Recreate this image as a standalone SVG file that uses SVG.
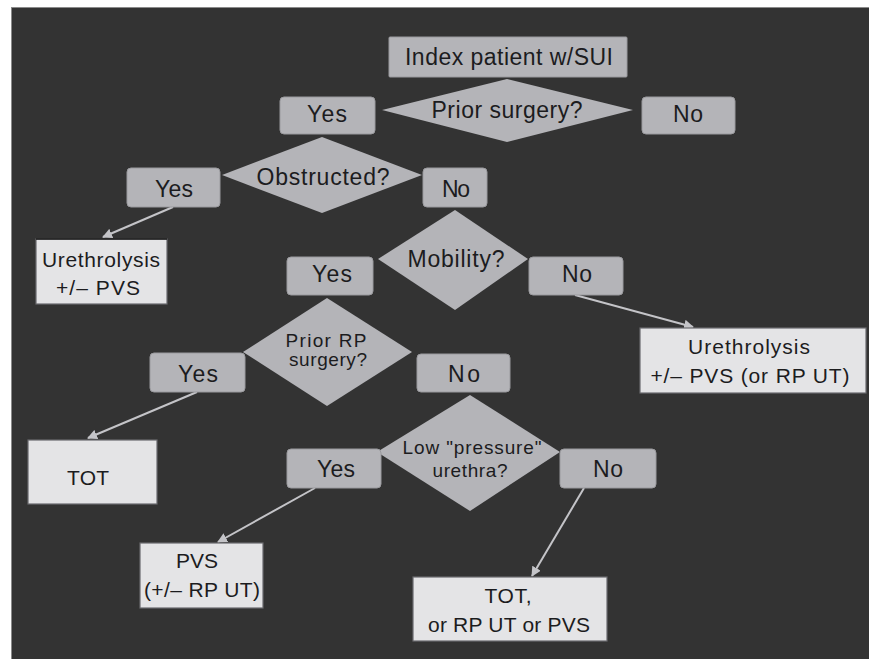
<svg xmlns="http://www.w3.org/2000/svg" width="869" height="659" viewBox="0 0 869 659">
  <style>
    .dec { fill: #b4b4b8; }
    .btn { fill: #b4b4b8; stroke: #9a9a9e; stroke-width: 1; }
    .out { fill: #e4e4e6; stroke: #6a6a6e; stroke-width: 1.2; }
    text { font-family: "Liberation Sans", Arial, sans-serif; fill: #1c1c1e; text-anchor: middle; }
    .lg { font-size: 23px; }
    .md { font-size: 21px; }
    .sm { font-size: 19px; }
    .link { stroke: #c4c4c8; stroke-width: 2; fill: none; marker-end: url(#arrow); }
  </style>
  <defs>
    <marker id="arrow" viewBox="0 0 10 10" refX="9" refY="5" markerWidth="5" markerHeight="5" orient="auto" markerUnits="strokeWidth">
      <path d="M0,0 L10,5 L0,10 Z" fill="#c4c4c8"/>
    </marker>
  </defs>

  <!-- page and panel -->
  <rect x="0" y="0" width="869" height="659" fill="#ffffff"/>
  <rect x="11" y="7" width="858" height="652" fill="#8a8a8a"/>
  <rect x="12" y="8" width="857" height="651" fill="#333333"/>

  <!-- connectors -->
  <g id="connectors">
    <line class="link" x1="173" y1="207" x2="103" y2="237"/>
    <line class="link" x1="575" y1="295" x2="693" y2="327"/>
    <line class="link" x1="197" y1="392" x2="88" y2="438"/>
    <line class="link" x1="315" y1="488" x2="218" y2="542"/>
    <line class="link" x1="584" y1="488" x2="532" y2="576"/>
  </g>

  <!-- start -->
  <g id="start">
    <rect class="btn" x="389" y="37" width="238" height="40" rx="1"/>
    <text class="lg" x="509" y="65" textLength="208" lengthAdjust="spacing">Index patient w/SUI</text>
  </g>

  <!-- Prior surgery? -->
  <g id="q-prior-surgery">
    <polygon class="dec" points="507,79 633,110 507,142 382,110"/>
    <text class="lg" x="507" y="118" textLength="151" lengthAdjust="spacing">Prior surgery?</text>
  </g>
  <g id="prior-surgery-yes">
    <rect class="btn" x="280" y="97" width="95" height="37" rx="4"/>
    <text class="lg" x="327" y="122" textLength="40" lengthAdjust="spacing">Yes</text>
  </g>
  <g id="prior-surgery-no">
    <rect class="btn" x="642" y="97" width="93" height="37" rx="4"/>
    <text class="lg" x="688" y="122" textLength="30" lengthAdjust="spacing">No</text>
  </g>

  <!-- Obstructed? -->
  <g id="q-obstructed">
    <polygon class="dec" points="322,137 422,175 322,213 222,175"/>
    <text class="lg" x="323" y="185" textLength="133" lengthAdjust="spacing">Obstructed?</text>
  </g>
  <g id="obstructed-yes">
    <rect class="btn" x="127" y="168" width="93" height="39" rx="4"/>
    <text class="lg" x="174" y="197" textLength="38" lengthAdjust="spacing">Yes</text>
  </g>
  <g id="obstructed-no">
    <rect class="btn" x="423" y="168" width="64" height="39" rx="4"/>
    <text class="lg" x="456" y="197" textLength="28" lengthAdjust="spacing">No</text>
  </g>
  <g id="urethrolysis-pvs">
    <rect class="out" x="36" y="239" width="131" height="65"/>
    <line x1="36" y1="239" x2="167" y2="239" stroke="#1a1a1a" stroke-width="1.5"/>
    <text class="md" x="101" y="267" textLength="118" lengthAdjust="spacing">Urethrolysis</text>
    <text class="md" x="98" y="295" textLength="84" lengthAdjust="spacing">+/– PVS</text>
  </g>

  <!-- Mobility? -->
  <g id="q-mobility">
    <polygon class="dec" points="455,210 528,259 455,310 378,259"/>
    <text class="lg" x="456" y="267" textLength="97" lengthAdjust="spacing">Mobility?</text>
  </g>
  <g id="mobility-yes">
    <rect class="btn" x="287" y="257" width="86" height="38" rx="4"/>
    <text class="lg" x="332" y="282" textLength="40" lengthAdjust="spacing">Yes</text>
  </g>
  <g id="mobility-no">
    <rect class="btn" x="529" y="257" width="94" height="38" rx="4"/>
    <text class="lg" x="577" y="282" textLength="30" lengthAdjust="spacing">No</text>
  </g>
  <g id="urethrolysis-pvs-rput">
    <rect class="out" x="640" y="328" width="226" height="65"/>
    <text class="md" x="749" y="354" textLength="122" lengthAdjust="spacing">Urethrolysis</text>
    <text class="md" x="750" y="383" textLength="199" lengthAdjust="spacing">+/– PVS (or RP UT)</text>
  </g>

  <!-- Prior RP surgery? -->
  <g id="q-prior-rp">
    <polygon class="dec" points="327,298 412,352 327,406 243,352"/>
    <text class="sm" x="326" y="347" textLength="81" lengthAdjust="spacing">Prior RP</text>
    <text class="sm" x="328" y="366" textLength="78" lengthAdjust="spacing">surgery?</text>
  </g>
  <g id="prior-rp-yes">
    <rect class="btn" x="150" y="353" width="95" height="39" rx="4"/>
    <text class="lg" x="198" y="382" textLength="40" lengthAdjust="spacing">Yes</text>
  </g>
  <g id="prior-rp-no">
    <rect class="btn" x="417" y="354" width="93" height="38" rx="4"/>
    <text class="lg" x="464" y="382" textLength="32" lengthAdjust="spacing">No</text>
  </g>
  <g id="tot">
    <rect class="out" x="28" y="440" width="129" height="64"/>
    <text class="md" x="88" y="485" textLength="42" lengthAdjust="spacing">TOT</text>
  </g>

  <!-- Low "pressure" urethra? -->
  <g id="q-low-pressure">
    <polygon class="dec" points="470,395 560,452 470,511 377,452"/>
    <text class="sm" x="472" y="454" textLength="139" lengthAdjust="spacing">Low "pressure"</text>
    <text class="sm" x="470" y="477" textLength="75" lengthAdjust="spacing">urethra?</text>
  </g>
  <g id="low-pressure-yes">
    <rect class="btn" x="287" y="449" width="94" height="39" rx="4"/>
    <text class="lg" x="336" y="477" textLength="38" lengthAdjust="spacing">Yes</text>
  </g>
  <g id="low-pressure-no">
    <rect class="btn" x="560" y="449" width="96" height="39" rx="4"/>
    <text class="lg" x="608" y="477" textLength="30" lengthAdjust="spacing">No</text>
  </g>
  <g id="pvs-rput">
    <rect class="out" x="140" y="543" width="123" height="65"/>
    <text class="md" x="197" y="568" textLength="42" lengthAdjust="spacing">PVS</text>
    <text class="md" x="202" y="597" textLength="116" lengthAdjust="spacing">(+/– RP UT)</text>
  </g>
  <g id="tot-rput-pvs">
    <rect class="out" x="413" y="577" width="194" height="64"/>
    <text class="md" x="508" y="603" textLength="47" lengthAdjust="spacing">TOT,</text>
    <text class="md" x="509" y="632" textLength="162" lengthAdjust="spacing">or RP UT or PVS</text>
  </g>
</svg>
